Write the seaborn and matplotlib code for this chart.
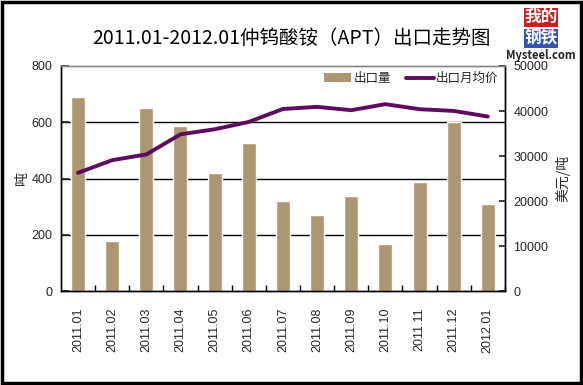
import numpy as np
import pandas as pd
import matplotlib
matplotlib.use("Agg")
import matplotlib.pyplot as plt
import seaborn as sns
from matplotlib.patches import Patch
from matplotlib.lines import Line2D

# data
months = ['2011.01', '2011.02', '2011.03', '2011.04', '2011.05', '2011.06', '2011.07',
          '2011.08', '2011.09', '2011.10', '2011.11', '2011.12', '2012.01']
export_qty = [688, 178, 650, 585, 418, 525, 320, 271, 339, 168, 386, 600, 311]
export_price = [26270, 29080, 30350, 34820, 35940, 37570, 40450, 40920, 40180, 41520, 40400, 40020, 38770]

sns.set_theme(style="white")
plt.rcParams['font.family'] = ['Noto Sans CJK SC', 'DejaVu Sans']

bar_color = '#ad9773'
line_color = '#5e0a5e'

df = pd.DataFrame({'month': months, 'qty': export_qty, 'price': export_price,
                   'pos': np.arange(len(months))})

fig = plt.figure(figsize=(5.83, 3.85), dpi=100)
ax = fig.add_axes([0.1046, 0.244, 0.7614, 0.5846])

sns.barplot(data=df, x='month', y='qty', color=bar_color, width=0.41,
            saturation=1, ax=ax)
ax.set_ylim(0, 800)
ax.set_yticks([0, 200, 400, 600, 800])
ax.set_xlim(-0.5, len(months) - 0.5)
for yv in [200, 400, 600]:
    ax.axhline(yv, color='black', lw=1, zorder=0)
ax.set_xlabel('')
ax.set_ylabel('吨', fontsize=10, rotation=90, labelpad=2)
ax.tick_params(axis='y', direction='in', length=6, labelsize=9, pad=6)
ax.set_xticks(np.arange(len(months)))
ax.set_xticklabels(months, rotation=90, fontsize=9, family=['Liberation Sans'])
ax.tick_params(axis='x', length=0, pad=12)
# small ticks between categories
ax.set_xticks(np.arange(len(months)) + 0.5, minor=True)
ax.tick_params(axis='x', which='minor', direction='in', length=4, color='black', bottom=True)

ax2 = ax.twinx()
sns.lineplot(data=df, x='pos', y='price', color=line_color, lw=2.8, ax=ax2)
ax2.set_ylim(0, 50000)
ax2.set_yticks([0, 10000, 20000, 30000, 40000, 50000])
ax2.set_ylabel('美元/吨', fontsize=10, labelpad=5)
ax2.tick_params(axis='y', direction='in', length=4, labelsize=9, pad=6, right=True)
ax2.set_xlim(-0.5, len(months) - 0.5)

for a in (ax, ax2):
    for s in ['left', 'right', 'bottom']:
        a.spines[s].set_color('black')
        a.spines[s].set_linewidth(1)
    a.spines['top'].set_color('#888888')
    a.spines['top'].set_linewidth(1)
    for lab in a.get_yticklabels():
        lab.set_family(['Liberation Sans'])
ax.tick_params(axis='y', left=True)

handles = [Patch(facecolor=bar_color, edgecolor='none'),
           Line2D([0], [0], color=line_color, lw=2.8)]
ax2.legend(handles, ['出口量', '出口月均价'], loc='upper right', ncol=2, frameon=False,
           fontsize=9, handlelength=2.2, handleheight=0.7, columnspacing=1.2,
           handletextpad=0.2, borderaxespad=0.1, bbox_to_anchor=(1.0, 1.0))

fig.text(0.5, 0.90, '2011.01-2012.01仲钨酸铵（APT）出口走势图', ha='center', va='center',
         fontsize=14, color='black')

# logo
fig.text(0.928, 0.955, '我的', ha='center', va='center', fontsize=12, color='white',
         weight='bold', bbox=dict(facecolor='#cc1f1f', edgecolor='none', pad=0.3))
fig.text(0.928, 0.900, '钢铁', ha='center', va='center', fontsize=12, color='white',
         weight='bold', bbox=dict(facecolor='#3355aa', edgecolor='none', pad=0.3))
fig.text(0.928, 0.855, 'Mysteel.com', ha='center', va='center', fontsize=8,
         color='#222222', weight='bold')

# outer frame
fig.patches.append(plt.Rectangle((0.003, 0.005), 0.994, 0.99, transform=fig.transFigure,
                                 fill=False, edgecolor='black', lw=2.5))

fig.savefig('out.png', dpi=100, facecolor='white')
